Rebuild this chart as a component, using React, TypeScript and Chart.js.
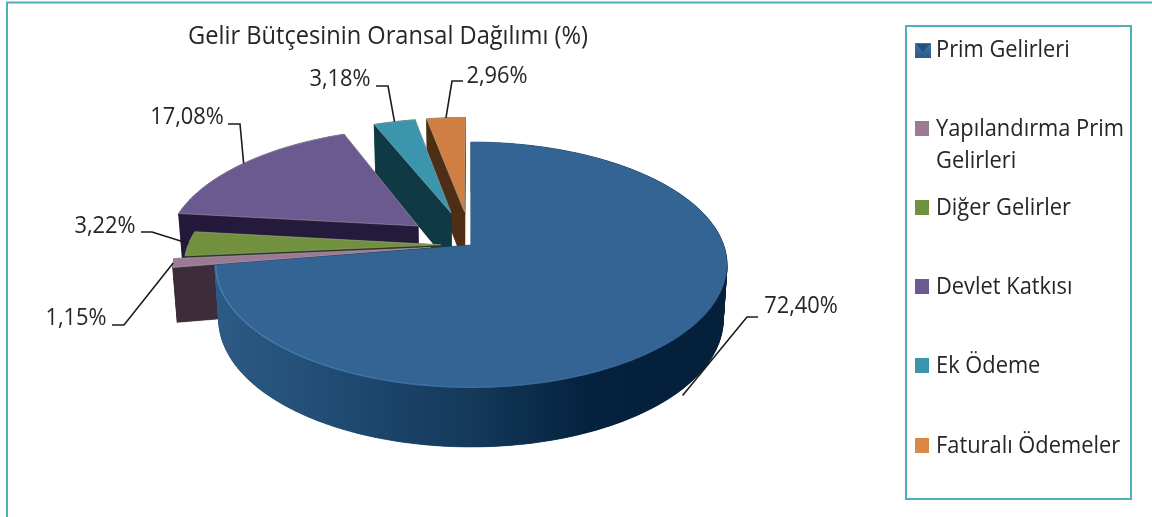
import React, { useEffect, useRef } from "react";
import { Chart, registerables } from "chart.js";

Chart.register(...registerables);

const TITLE = "Gelir Bütçesinin Oransal Dağılımı (%)";
const categories = ["Prim Gelirleri", "Yapılandırma Prim Gelirleri", "Diğer Gelirler", "Devlet Katkısı", "Ek Ödeme", "Faturalı Ödemeler"];
const shares = [72.4, 1.15, 3.22, 17.08, 3.18, 2.96];
const explodePercent = [0, 16, 12, 27, 29, 29];
const topColors = ["#346494", "#9C7A96", "#71913F", "#6B5A90", "#3B95AD", "#D07F42"];
const sideColors = ["#14395A", "#3E2C3B", "#2A3A14", "#241A3C", "#0F3A45", "#4E2E14"];
const legendColors = ["#3A6EA0", "#9C7A96", "#71913F", "#6B5A90", "#3B95AD", "#D98845"];

// label centre, leader start, leader elbow
const callouts = [
  { cx: 801, cy: 306, sx: 758, sy: 317, ex: 747, ey: 317, z: 1.12 },
  { cx: 76, cy: 318, sx: 112, sy: 325, ex: 124, ey: 325, z: 0 },
  { cx: 105, cy: 226, sx: 141, sy: 232, ex: 152, ey: 232, z: 0 },
  { cx: 187, cy: 117, sx: 228, sy: 124, ex: 240, ey: 124, z: 0 },
  { cx: 340, cy: 79, sx: 376, sy: 86, ex: 388, ey: 86, z: 0 },
  { cx: 497, cy: 76, sx: 463, sy: 81, ex: 452, ey: 81, z: 0 },
];
const legendRowY = [50, 129, 208, 287, 366, 446];

const FONT = '"Open Sans", sans-serif';
const TEXT_COLOR = "#262626";
const FRAME = "#4FB0BA";
const CONDENSE = 0.91;

const CX = 471, CY = 245, RX = 252.6, RY = 119.7, K = 0.1626, DEPTH = 54, SHRINK = 0.015;

function project(u: number, v: number, z: number) {
  const s = 1 / (1 - K * v);
  return {
    x: CX + RX * u * s * (1 - SHRINK * z),
    y: CY + RY * v * s + DEPTH * Math.sqrt(s) * z,
  };
}

function condensed(ctx: CanvasRenderingContext2D, text: string, x: number, y: number) {
  ctx.fillText(text, x, y, ctx.measureText(text).width * CONDENSE);
}

function sliceOutline(el: any, z: number) {
  const { startAngle, endAngle } = el.getProps(["startAngle", "endAngle"], true);
  const e = (el.options.offset || 0) / 100;
  const mid = (startAngle + endAngle) / 2;
  const ou = Math.cos(mid) * e, ov = Math.sin(mid) * e;
  const n = Math.max(4, Math.ceil((endAngle - startAngle) / 0.015));
  const pts = [];
  for (let i = 0; i <= n; i++) {
    const a = startAngle + ((endAngle - startAngle) * i) / n;
    pts.push(project(ou + Math.cos(a), ov + Math.sin(a), z));
  }
  return { apex: project(ou, ov, z), pts, mid, ou, ov };
}

function tracePoly(ctx: CanvasRenderingContext2D, pts: { x: number; y: number }[]) {
  ctx.beginPath();
  pts.forEach((p, i) => (i ? ctx.lineTo(p.x, p.y) : ctx.moveTo(p.x, p.y)));
  ctx.closePath();
}

const pie3d = {
  id: "pie3d",
  beforeDraw(chart: any) {
    const ctx = chart.ctx;
    ctx.save();
    ctx.fillStyle = "#fff";
    ctx.fillRect(0, 0, chart.width, chart.height);
    ctx.strokeStyle = FRAME;
    ctx.lineWidth = 2;
    ctx.beginPath();
    ctx.moveTo(7, chart.height);
    ctx.lineTo(7, 2.5);
    ctx.lineTo(chart.width, 2.5);
    ctx.stroke();
    ctx.restore();
  },
  beforeDatasetDraw(chart: any, args: any) {
    const ctx = chart.ctx;
    const els = args.meta.data;
    ctx.save();
    for (let i = els.length - 1; i >= 0; i--) {
      const top = sliceOutline(els[i], 0);
      const bottom = sliceOutline(els[i], 1);
      let side: any = sideColors[i];
      if (i === 0) {
        const g = ctx.createLinearGradient(215, 0, 727, 0);
        g.addColorStop(0, "#2D5B85");
        g.addColorStop(0.25, "#1F4A72");
        g.addColorStop(0.5, "#14395A");
        g.addColorStop(0.74, "#04213D");
        g.addColorStop(1, "#04203B");
        side = g;
      }
      ctx.fillStyle = side;
      ctx.strokeStyle = side;
      ctx.lineWidth = 0.6;
      const ringT = [top.apex, ...top.pts];
      const ringB = [bottom.apex, ...bottom.pts];
      tracePoly(ctx, ringB);
      ctx.fill();
      for (let j = 0; j < ringT.length; j++) {
        const k = (j + 1) % ringT.length;
        tracePoly(ctx, [ringT[j], ringT[k], ringB[k], ringB[j]]);
        ctx.fill();
        ctx.stroke();
      }
      tracePoly(ctx, ringT);
      ctx.fillStyle = topColors[i];
      ctx.fill();
      if (i === 0) {
        ctx.save();
        ctx.clip();
        ctx.lineWidth = 3;
        top.pts.forEach((p, j) => {
          if (j === 0) return;
          const frac = j / top.pts.length;
          if (frac > 0.5) {
            const prev = top.pts[j - 1];
            const alpha = Math.min(0.8, (frac - 0.5) * 1.8);
            ctx.strokeStyle = `rgba(72,134,184,${alpha})`;
            ctx.beginPath();
            ctx.moveTo(prev.x, prev.y);
            ctx.lineTo(p.x, p.y);
            ctx.stroke();
          }
        });
        ctx.restore();
      } else {
        ctx.strokeStyle = "rgba(185,185,185,0.55)";
        ctx.lineWidth = 0.8;
        ctx.stroke();
      }
    }
    ctx.restore();
    return false;
  },
  afterDraw(chart: any) {
    const ctx = chart.ctx;
    const els = chart.getDatasetMeta(0).data;
    ctx.save();
    ctx.font = `24px ${FONT}`;
    ctx.fillStyle = TEXT_COLOR;
    ctx.textBaseline = "middle";
    // callouts
    els.forEach((el: any, i: number) => {
      const c = callouts[i];
      const { mid, ou, ov } = sliceOutline(el, 0);
      const end = project(ou + Math.cos(mid), ov + Math.sin(mid), c.z);
      ctx.strokeStyle = "#1c1c1c";
      ctx.lineWidth = 1.6;
      ctx.beginPath();
      ctx.moveTo(c.sx, c.sy);
      ctx.lineTo(c.ex, c.ey);
      ctx.lineTo(end.x, end.y);
      ctx.stroke();
      ctx.textAlign = "center";
      const value = chart.data.datasets[0].data[i];
      condensed(ctx, `${value.toFixed(2).replace(".", ",")}%`, c.cx, c.cy);
    });
    // legend
    ctx.strokeStyle = FRAME;
    ctx.lineWidth = 2;
    ctx.strokeRect(906, 26, 225, 473);
    ctx.textAlign = "left";
    chart.data.labels.forEach((label: string, i: number) => {
      const y = legendRowY[i];
      if (i === 0) {
        const g = ctx.createLinearGradient(0, y - 7, 0, y + 8);
        g.addColorStop(0, "#3F76AB");
        g.addColorStop(1, "#2C5A88");
        ctx.fillStyle = g;
        ctx.fillRect(915, y - 7, 16, 15);
        ctx.fillStyle = "#24527C";
        ctx.beginPath();
        ctx.moveTo(916, y - 6);
        ctx.lineTo(930, y - 6);
        ctx.lineTo(923, y + 2);
        ctx.closePath();
        ctx.fill();
      } else {
        ctx.fillStyle = legendColors[i];
        ctx.fillRect(915, y - 8, 14, 15);
      }
      ctx.fillStyle = TEXT_COLOR;
      const words = label.split(" ");
      const lines: string[] = [];
      let cur = "";
      for (const w of words) {
        const t = cur ? `${cur} ${w}` : w;
        if (ctx.measureText(t).width * CONDENSE > 192 && cur) {
          lines.push(cur);
          cur = w;
        } else cur = t;
      }
      lines.push(cur);
      lines.forEach((l, j) => condensed(ctx, l, 936, y + j * 32));
    });
    ctx.restore();
  },
};

export default function App() {
  const ref = useRef<HTMLCanvasElement>(null);
  useEffect(() => {
    const chart = new Chart(ref.current as HTMLCanvasElement, {
      type: "pie",
      data: {
        labels: categories,
        datasets: [{ data: shares, backgroundColor: topColors, offset: explodePercent, borderWidth: 0 }],
      },
      options: {
        responsive: false,
        animation: false,
        events: [],
        layout: { padding: { left: 188, right: 564, top: 0, bottom: 0 } },
        plugins: {
          legend: { display: false },
          tooltip: { enabled: false },
          title: {
            display: true,
            text: TITLE,
            fullSize: false,
            color: TEXT_COLOR,
            font: { family: FONT, size: 26, weight: "normal" },
            padding: { top: 21, bottom: 0 },
          },
        },
      },
      plugins: [pie3d],
    } as any);
    return () => chart.destroy();
  }, []);
  return <canvas ref={ref} width={1152} height={517} style={{ position: "absolute", left: 0, top: 0, display: "block" }} />;
}
